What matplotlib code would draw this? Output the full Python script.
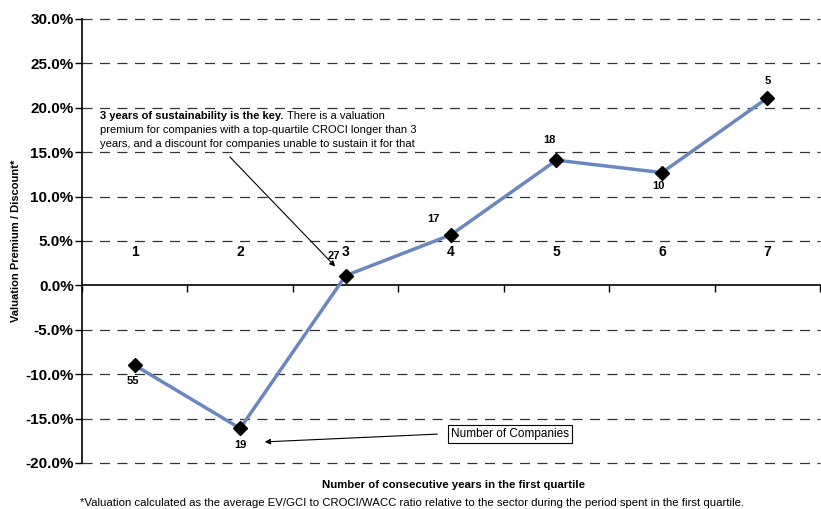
import numpy as np
import matplotlib.pyplot as plt

years = ["1", "2", "3", "4", "5", "6", "7"]
premium = [-9.0, -16.1, 1.1, 5.7, 14.1, 12.7, 21.1]
companies = ["55", "19", "27", "17", "18", "10", "5"]

# label offsets from each point, in pixels (dx, dy)
label_off = [(-2, -16), (0, -17), (-12, 20), (-18, 16), (-7, 20), (-3, -13), (0, 17)]

plt.rcParams['font.family'] = ['Liberation Sans', 'DejaVu Sans']

fig = plt.figure(figsize=(8.21, 5.09), dpi=100)
ax = fig.add_axes([0.0999, 0.0904, 0.8990, 0.8723])

x = np.arange(len(years))
ax.plot(x, premium, color="#6b87c0", lw=2.5, zorder=3)
ax.plot(x, premium, ls="none", marker="D", ms=7, color="black", zorder=4)

ax.set_xlim(-0.5, len(years) - 0.5)
ax.set_ylim(-20, 30)
ax.set_yticks(np.arange(-20, 31, 5))
ax.set_yticklabels([f"{v:.1f}%" for v in np.arange(-20, 31, 5)],
                   fontsize=11, fontweight="bold")
ax.tick_params(axis="y", direction="out", length=5, width=1, pad=1)

# dashed gridlines
for v in np.arange(-20, 31, 5):
    if v != 0:
        ax.axhline(v, color="#333333", lw=0.9, ls=(0, (8, 6)), zorder=1, clip_on=False)

# x axis on the zero line, ticks at category boundaries
ax.spines["bottom"].set_position(("data", 0))
ax.spines["top"].set_visible(False)
ax.spines["right"].set_visible(False)
ax.spines["left"].set_linewidth(1.2)
ax.spines["bottom"].set_linewidth(1.2)
ax.set_xticks(np.arange(-0.5, len(years), 1))
ax.set_xticklabels([])
ax.tick_params(axis="x", direction="out", length=5, width=1)

for i, yr in enumerate(years):
    ax.text(i, 3.8, yr, ha="center", va="center", fontsize=10, fontweight="bold")

for i, (v, c) in enumerate(zip(premium, companies)):
    dx, dy = label_off[i]
    ax.annotate(c, (i, v), xytext=(dx * 0.72, dy * 0.72), textcoords="offset points",
                ha="center", va="center", fontsize=8, fontweight="bold")

ax.set_ylabel("Valuation Premium / Discount*", fontsize=8, fontweight="bold")
ax.yaxis.set_label_coords(-0.083, 0.5)

# annotation text
fig.text(0.1218, 0.773, "3 years of sustainability is the key.", fontsize=8,
         fontweight="bold", va="center", ha="left")
fig.text(0.3500, 0.773, "There is a valuation", fontsize=8, va="center", ha="left")
fig.text(0.1218, 0.745, "premium for companies with a top-quartile CROCI longer than 3",
         fontsize=8, va="center", ha="left")
fig.text(0.1218, 0.717, "years, and a discount for companies unable to sustain it for that",
         fontsize=8, va="center", ha="left")

ax.annotate("", xy=(2 - 0.08, premium[2] + 0.8), xycoords="data",
            xytext=(228 / 821, 1 - 155 / 509), textcoords="figure fraction",
            arrowprops=dict(arrowstyle="-|>", color="black", lw=0.8,
                            mutation_scale=8))

ax.text(451 / 821, 1 - 434 / 509, "Number of Companies", transform=fig.transFigure,
        fontsize=8.5, ha="left", va="center",
        bbox=dict(boxstyle="square,pad=0.25", fc="white", ec="black", lw=0.8))
ax.annotate("", xy=(262 / 821, 1 - 442 / 509), xycoords="figure fraction",
            xytext=(440 / 821, 1 - 434 / 509), textcoords="figure fraction",
            arrowprops=dict(arrowstyle="-|>", color="black", lw=0.8,
                            mutation_scale=8))

fig.text(453 / 821, 1 - 485 / 509, "Number of consecutive years in the first quartile",
         fontsize=8.2, fontweight="bold", ha="center", va="center")
fig.text(412 / 821, 1 - 503 / 509,
         "*Valuation calculated as the average EV/GCI to CROCI/WACC ratio relative to the sector during the period spent in the first quartile.",
         fontsize=8.2, ha="center", va="center")

fig.savefig("out.png", dpi=100)
